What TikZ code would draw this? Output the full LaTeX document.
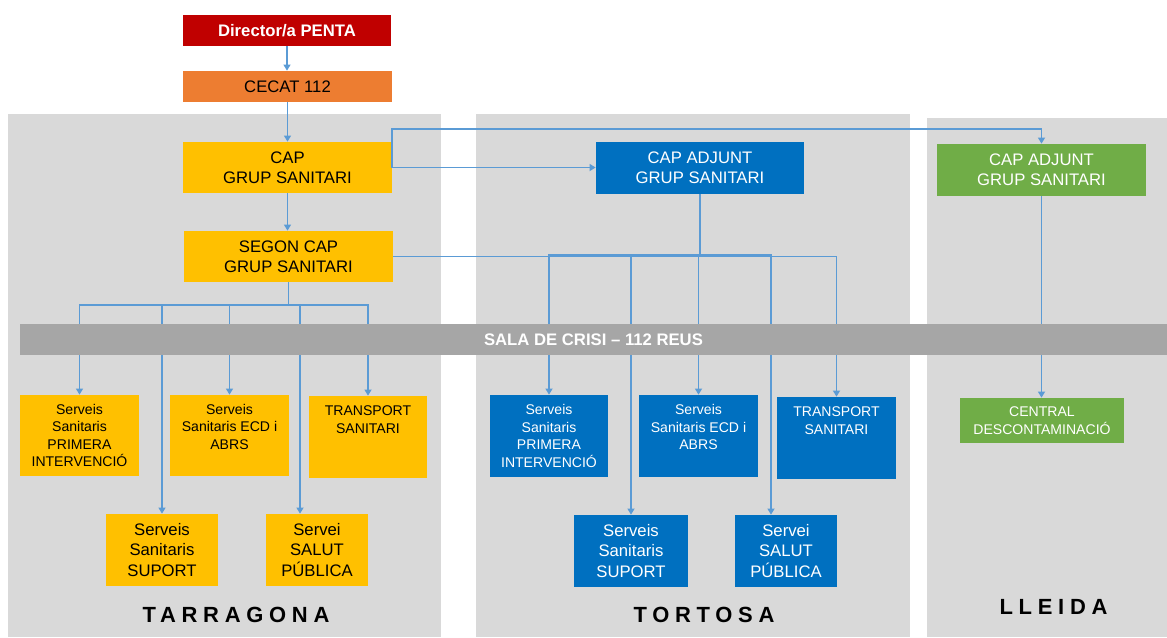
\documentclass[tikz,border=0pt]{standalone}
\usepackage{fontspec}
\setmainfont{Liberation Sans}
\newfontfamily\widefont[LetterSpace=26]{Liberation Sans}
\usetikzlibrary{arrows.meta}

\definecolor{panelgray}{HTML}{D9D9D9}
\definecolor{bargray}{HTML}{A6A6A6}
\definecolor{pentared}{HTML}{C00000}
\definecolor{cecatorange}{HTML}{ED7D31}
\definecolor{tgnyellow}{HTML}{FFC000}
\definecolor{tsablue}{HTML}{0070C0}
\definecolor{lldgreen}{HTML}{70AD47}
\definecolor{linkblue}{HTML}{5B9BD5}

\begin{document}
\begin{tikzpicture}[x=0.02cm,y=-0.02cm,
  box/.style={inner sep=0pt,align=center},
  bigtxt/.style={font=\fontsize{9.5}{11.3}\selectfont},
  midtxt/.style={font=\fontsize{9.5}{11.6}\selectfont},
  smalltxt/.style={font=\fontsize{8}{10}\selectfont},
  link/.style={linkblue,line width=0.95pt},
  arrow/.style={link,-{Triangle[length=3.5pt,width=4pt]}},
  region/.style={font=\fontsize{12.5}{14}\widefont\bfseries}]
\useasboundingbox (0,0) rectangle (1167,637);

\fill[panelgray] (8,114) rectangle (441,637);
\fill[panelgray] (476,114) rectangle (910,637);
\fill[panelgray] (927,118) rectangle (1167,637);

\node[box,fill=pentared,text=white,minimum width=4.16cm,minimum height=0.62cm,font=\fontsize{9.5}{11.3}\selectfont\bfseries] (dir) at (287,30.5) {Director/a PENTA};
\node[box,bigtxt,fill=cecatorange,minimum width=4.18cm,minimum height=0.62cm] (cecat) at (287.5,86.5) {CECAT 112};
\node[box,bigtxt,fill=tgnyellow,minimum width=4.18cm,minimum height=1.02cm] (cap) at (287.5,167.5) {CAP\\GRUP SANITARI};
\node[box,bigtxt,fill=tgnyellow,minimum width=4.18cm,minimum height=1.02cm] (segon) at (288.5,256.5) {SEGON CAP\\GRUP SANITARI};
\node[box,bigtxt,fill=tsablue,text=white,minimum width=4.16cm,minimum height=1.04cm] (adjT) at (700,168) {CAP ADJUNT\\GRUP SANITARI};
\node[box,bigtxt,fill=lldgreen,text=white,minimum width=4.18cm,minimum height=1.04cm] (adjL) at (1041.5,170) {CAP ADJUNT\\GRUP SANITARI};

% Tarragona
\node[box,smalltxt,fill=tgnyellow,minimum width=2.38cm,minimum height=1.62cm] (tpi) at (79.5,435.5) {Serveis\\Sanitaris\\PRIMERA\\INTERVENCIÓ};
\node[box,smalltxt,fill=tgnyellow,minimum width=2.38cm,minimum height=1.62cm] (tecd) at (229.5,435.5) {Serveis\\Sanitaris ECD i\\ABRS\\\mbox{}};
\node[box,smalltxt,fill=tgnyellow,minimum width=2.36cm,minimum height=1.64cm] (ttr) at (368,437) {TRANSPORT\\SANITARI\\\mbox{}\\\mbox{}};
\node[box,midtxt,fill=tgnyellow,minimum width=2.24cm,minimum height=1.44cm] (tsu) at (162,550) {Serveis\\Sanitaris\\SUPORT};
\node[box,midtxt,fill=tgnyellow,minimum width=2.04cm,minimum height=1.44cm] (tsp) at (317,550) {Servei\\SALUT\\PÚBLICA};

% Tortosa
\node[box,smalltxt,fill=tsablue,text=white,minimum width=2.36cm,minimum height=1.64cm] (opi) at (549,436) {Serveis\\Sanitaris\\PRIMERA\\INTERVENCIÓ};
\node[box,smalltxt,fill=tsablue,text=white,minimum width=2.38cm,minimum height=1.64cm] (oecd) at (698.5,436) {Serveis\\Sanitaris ECD i\\ABRS\\\mbox{}};
\node[box,smalltxt,fill=tsablue,text=white,minimum width=2.38cm,minimum height=1.64cm] (otr) at (836.5,438) {TRANSPORT\\SANITARI\\\mbox{}\\\mbox{}};
\node[box,midtxt,fill=tsablue,text=white,minimum width=2.28cm,minimum height=1.44cm] (osu) at (631,551) {Serveis\\Sanitaris\\SUPORT};
\node[box,midtxt,fill=tsablue,text=white,minimum width=2.04cm,minimum height=1.44cm] (osp) at (786,551) {Servei\\SALUT\\PÚBLICA};

% Lleida
\node[box,smalltxt,fill=lldgreen,text=white,minimum width=3.28cm,minimum height=0.9cm] (lcd) at (1042,420.5) {CENTRAL\\DESCONTAMINACIÓ};

\node[region] (tgn) at (236,615) {TARRAGONA};
\node[region] (tsa) at (704,615) {TORTOSA};
\node[region] (lld) at (1053.5,607) {LLEIDA};

% connectors
\draw[arrow] (dir.south) -- (dir.south |- cecat.north);
\draw[arrow] (cecat.south) -- (cecat.south |- cap.north);
\draw[arrow] (cap.south) -- (cap.south |- segon.north);
\draw[arrow] (cap.east) -- (cap.east -| adjT.west);
\coordinate (hop) at (392,129);
\draw[arrow] (cap.east) -- (cap.east |- hop) -| (adjL.north);
\draw[arrow] (segon.east) -| (otr.north);

\coordinate (tbus) at (288,305);
\draw[link] (segon.south) -- (segon.south |- tbus);
\draw[arrow] (segon.south |- tbus) -| (tpi.north);
\draw[arrow] (segon.south |- tbus) -| (tsu.north);
\draw[arrow] (segon.south |- tbus) -| (tecd.north);
\draw[arrow] (segon.south |- tbus) -| ([xshift=-0.34cm]tsp.north);
\draw[arrow] (segon.south |- tbus) -| (ttr.north);

\coordinate (obus) at (700,255);
\draw[link] (adjT.south) -- (adjT.south |- obus);
\draw[arrow] (adjT.south |- obus) -| (opi.north);
\draw[arrow] (adjT.south |- obus) -| (osu.north);
\draw[arrow] (adjT.south |- obus) -| (oecd.north);
\draw[arrow] (adjT.south |- obus) -| ([xshift=-0.3cm]osp.north);

\draw[arrow] (adjL.south) -- (adjL.south |- lcd.north);

\node[box,fill=bargray,text=white,minimum width=22.94cm,minimum height=0.62cm,font=\fontsize{9.5}{11.3}\selectfont\bfseries] (sala) at (593.5,339.5) {SALA DE CRISI -- 112 REUS};
\end{tikzpicture}
\end{document}
